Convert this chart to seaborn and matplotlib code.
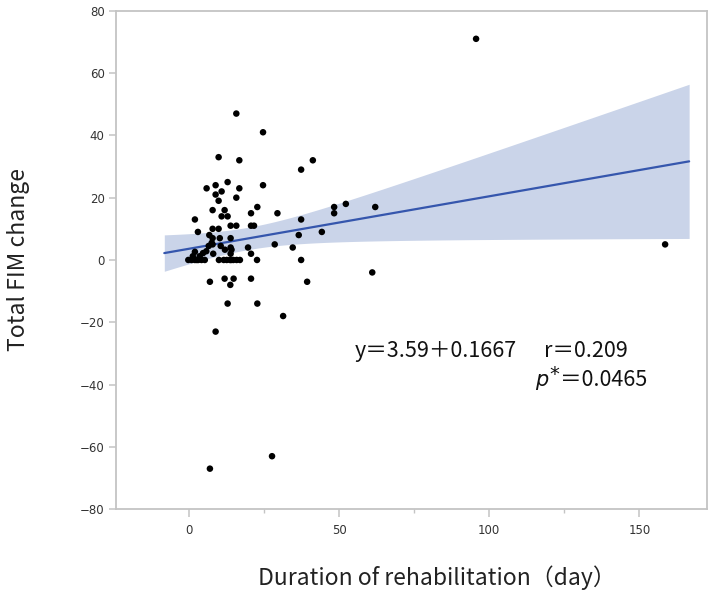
import numpy as np
import pandas as pd
import matplotlib
matplotlib.use("Agg")
import matplotlib.pyplot as plt
import seaborn as sns

# rehabilitation days vs total FIM change
duration_days = [
    95.6, 158.6, 15.7, 24.6, 9.8, 16.7, 41.2, 37.3, 5.8, 8.8,
    12.8, 10.8, 8.8, 16.7, 24.6, 9.8, 15.7, 7.8, 11.8, 22.7,
    10.8, 12.8, 20.6, 29.4, 1.9, 48.3, 52.2, 48.3, 62.0, 37.3,
    44.2, 36.5, 28.5, 34.5, 37.3, 61.0, 39.3, 31.3, 8.8, 6.9,
    27.6, 6.9, 11.8, 14.8, 13.7, 20.6, 12.8, 22.7, 7.8, 9.8,
    13.8, 15.7, 20.6, 21.6, 2.9, 6.7, 7.8, 10.2, 7.5, 6.5,
    13.8, 13.8, 13.8, 10.5, 19.6, 20.6, 1.9, 1.2, 3.5, 4.6,
    5.7, 11.9, 14.1, -0.3, 0.8, 1.9, 3.0, 4.1, 5.2, 9.9,
    11.5, 12.5, 13.6, 14.7, 15.8, 16.9, 22.6, 2.5, 14.0, 8.0,
    7.8,
]
fim_change = [
    71, 5, 47, 41, 33, 32, 32, 29, 23, 24,
    25, 22, 21, 23, 24, 19, 20, 16, 16, 17,
    14, 14, 15, 15, 13, 17, 18, 15, 17, 13,
    9, 8, 5, 4, 0, -4, -7, -18, -23, -67,
    -63, -7, -6, -6, -8, -6, -14, -14, 10, 10,
    11, 11, 11, 11, 9, 8, 7, 7, 5.5, 4.5,
    7, 4, 2, 4.5, 4, 2, 2.6, 1.2, 1.2, 2.2,
    2.8, 3.3, 3.3, 0, 0, 0, 0, 0, 0, 0,
    0, 0, 0, 0, 0, 0, 0, 0, 0, 2,
    5,
]
x_ticks = [0, 50, 100, 150]
y_ticks = [-80, -60, -40, -20, 0, 20, 40, 60, 80]
eq_text = "y＝3.59＋0.1667"
r_text = "r＝0.209"
p_text = "＝0.0465"

df = pd.DataFrame({"days": duration_days, "fim": fim_change})

# least squares fit with a 95% confidence band for the mean
x = df["days"].to_numpy()
y = df["fim"].to_numpy()
n = len(x)
slope, intercept = np.polyfit(x, y, 1)
resid = y - (intercept + slope * x)
s = np.sqrt((resid ** 2).sum() / (n - 2))
sxx = ((x - x.mean()) ** 2).sum()
pad = 8
grid = np.linspace(x.min() - pad, x.max() + pad, 200)
fit = intercept + slope * grid
half = 1.987 * s * np.sqrt(1 / n + (grid - x.mean()) ** 2 / sxx)

sns.set_style("white")
plt.rcParams["font.family"] = ["DejaVu Sans"]

fig = plt.figure(figsize=(7.15, 5.99), dpi=100)
ax = fig.add_axes([0.1618, 0.150, 0.8272, 0.832])

ax.fill_between(grid, fit - half, fit + half, color="#cad4e9", lw=0, zorder=1)
sns.lineplot(x=grid, y=fit, ax=ax, color="#3556ad", lw=1.6, zorder=2)
sns.scatterplot(data=df, x="days", y="fim", ax=ax, color="black", s=22,
                edgecolor="none", zorder=3)

ax.set_xlim(-24.5, 172.6)
ax.set_ylim(-80, 80)
ax.set_xticks(x_ticks)
ax.set_xticks([25, 75, 125], minor=True)
ax.set_yticks(y_ticks)
ax.set_xlabel("")
ax.set_ylabel("")

for sp in ax.spines.values():
    sp.set_color("#c4c4c4")
    sp.set_linewidth(1.3)
ax.tick_params(axis="both", which="major", direction="out", length=5,
               width=1.1, color="#c4c4c4", labelsize=8.5, labelcolor="#333333",
               pad=3)
ax.tick_params(axis="x", which="major", length=6, pad=5)
ax.tick_params(axis="x", which="minor", direction="out", length=3, width=1.0,
               color="#c4c4c4", bottom=True)
ax.tick_params(left=True, bottom=True)

jp = ["Noto Sans CJK JP", "DejaVu Sans"]
fig.text(0.026, 0.566, "Total FIM change", rotation=90, ha="center",
         va="center", fontsize=16.5, family=jp, color="#222222")
fig.text(0.611, 0.035, "Duration of rehabilitation（day）", ha="center",
         va="center", fontsize=16.5, family=jp, color="#222222")

# regression annotation, placed piece by piece
fig.text(355 / 715, 0.4145, eq_text, ha="left", va="center", fontsize=15.5,
         family=jp, color="#111111")
fig.text(544 / 715, 0.4145, r_text, ha="left", va="center", fontsize=15.5,
         family=jp, color="#111111")
fig.text(647 / 715, 0.366, p_text, ha="right", va="center", fontsize=15.5,
         family=jp, color="#111111")
fig.text(535 / 715, 0.366, "p", ha="left", va="center", fontsize=15,
         family="DejaVu Sans", style="italic", color="#111111")
fig.text(549 / 715, 0.374, "*", ha="left", va="center", fontsize=14,
         family="DejaVu Sans", color="#111111")

fig.savefig("out.png", dpi=100)
